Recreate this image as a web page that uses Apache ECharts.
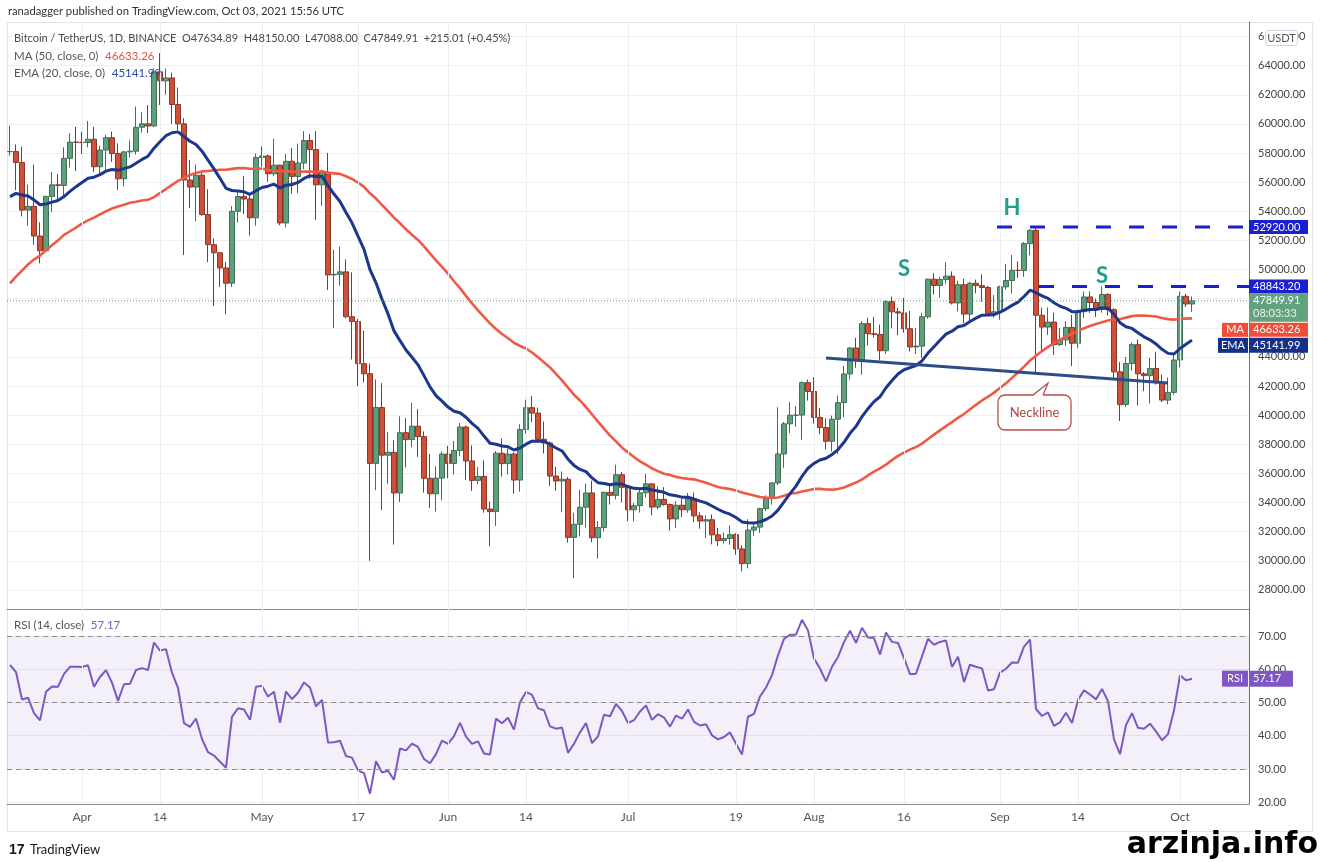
<!DOCTYPE html>
<html><head><meta charset="utf-8">
<script src="https://cdn.jsdelivr.net/npm/echarts@6/dist/echarts.min.js"></script>
<style>html,body{margin:0;padding:0;background:#fff;}#c{width:1320px;height:862px;}</style>
</head><body><div id="c"></div>
<script>
// ---------- data ----------
const startDate = '2021-03-20';
const totalSlots = 207;           // Mar 20 .. Oct 12 (right padding after last bar)
// closes before the visible window (Jan 30 .. Mar 19), needed by MA50 / EMA20 / RSI14
const priorCloses = [34269,33115,
  33533,35510,37473,36926,38144,39266,38903,46196,46481,44918,47910,47504,47106,48717,
  47945,49199,52149,51679,55889,55918,57412,54204,48891,49677,47079,46339,46189,45138,
  49632,48379,50367,48374,48758,48872,50971,52376,54885,55851,57773,57221,61188,58968,
  55605,56900,58912,57648,58030];
// daily candles [open, high, low, close]
const mar21 = [[58100,59880,57820,58102],[58102,58589,55450,57351],[57351,58430,53650,54083],[54083,55830,53000,54340],
  [54340,57200,51700,52303],[52303,53240,50427,51293],[51293,55073,51214,55025],[55025,56700,53950,55817],
  [55817,56559,54691,55777],[55777,58400,54900,57635],[57635,59368,57000,58746],[58746,59800,56769,58740]];
const apr21 = [[58740,59461,57935,58720],[58720,60200,58400,58950],[58950,59791,56700,57059],[57059,58500,56478,58207],
  [58207,59250,56800,59058],[59058,59475,57400,57971],[57971,58650,55473,56231],[56231,58153,55700,58080],
  [58080,58869,57700,58130],[58130,61200,57900,59771],[59771,60800,59400,60007],[60007,61300,59380,59861],
  [59861,63800,59800,63576],[63576,64854,61301,62959],[62959,63800,62000,63160],[63160,63520,60000,61334],
  [61334,62506,59580,60007],[60007,60400,51000,56150],[56150,57526,54221,55663],[55663,57200,53329,56473],
  [56473,56757,53695,53780],[53780,55521,50500,51711],[51711,52130,47500,51152],[51152,51167,48805,50110],
  [50110,50535,46930,49066],[49066,54356,48800,54001],[54001,55450,53222,55011],[55011,56428,53813,54847],
  [54847,55195,52330,53555],[53555,57963,53013,57694]];
const may21 = [[57694,58458,57052,57800],[57800,57911,56035,56578],[56578,58981,56435,57169],[57169,57200,53046,53200],
  [53200,57939,52900,57436],[57436,58360,55200,56393],[56393,58650,55241,57314],[57314,59500,56900,58862],
  [58862,59300,56235,58240],[58240,59500,53400,55816],[55816,56862,54370,56670],[56670,58000,48600,49631],
  [49631,51367,46000,49670],[49670,51569,48895,49841],[49841,50700,46650,46762],[46762,49800,43825,46431],
  [46431,46600,42001,43538],[43538,45800,42250,42849],[42849,43546,30000,36690],[36690,42451,34850,40526],
  [40526,42200,33488,37252],[37252,38856,35257,37449],[37449,38270,31111,34655],[34655,39920,34031,38796],
  [38796,39791,36419,38324],[38324,40841,37800,39241],[39241,40411,37134,38529],[38529,38877,34684,35664],
  [35664,37338,33632,34605],[34605,36488,33379,35678],[35678,37499,34153,37332]];
const jun21 = [[37332,37894,35666,36685],[36685,38225,35920,37576],[37576,39476,37170,39188],[39188,39289,35555,36856],
  [36856,37917,34800,35520],[35520,36436,35258,35796],[35796,36900,33300,33552],[33552,34068,31000,33380],
  [33380,37534,32396,37388],[37388,38392,35782,36675],[36675,37680,35936,37331],[37331,37440,34600,35546],
  [35546,39380,34757,39020],[39020,41064,38730,40516],[40516,41330,39506,40144],[40144,40527,38116,38349],
  [38349,39559,37365,38092],[38092,38200,35129,35820],[35820,36457,34803,35483],[35483,36137,33336,35600],
  [35600,35750,31251,31608],[31608,33298,28805,32509],[32509,34881,31683,33679],[33679,35298,32287,34663],
  [34663,35500,31275,31584],[31584,32730,30151,32283],[32283,34749,32018,34700],[34700,35297,33862,34494],
  [34494,36600,34225,35911],[35911,36100,34017,35045]];
const jul21 = [[35045,35057,32711,33504],[33504,33977,32699,33786],[33786,34945,33316,34669],[34669,35967,34357,35286],
  [35286,35293,33125,33690],[33690,35118,33532,34220],[34220,35059,33777,33862],[33862,33929,32077,32875],
  [32875,34100,32261,33815],[33815,34262,33004,33502],[33502,34666,33306,34259],[34259,34679,32658,33086],
  [33086,33340,32202,32729],[32729,33114,31550,32820],[32820,33185,31133,31781],[31781,32248,31020,31389],
  [31389,31940,31179,31533],[31533,32435,31108,31796],[31796,31899,30407,30817],[30817,31063,29278,29807],
  [29807,32858,29482,32110],[32110,32576,31708,32313],[32313,33650,31924,33581],[33581,34500,33401,34292],
  [34292,35398,33851,35350],[35350,40550,35205,37337],[37337,39542,36383,39406],[39406,40900,38772,39995],
  [39995,40640,39200,40008],[40008,42316,38313,42235],[42235,42448,41000,41626]];
const aug21 = [[41626,42599,39422,39845],[39845,40480,38690,39147],[39147,39780,37642,38207],[38207,39969,37508,39723],
  [39723,41350,37332,40862],[40862,43392,39853,42836],[42836,44700,42446,44614],[44614,45310,43261,43792],
  [43792,46454,42779,46285],[46285,46700,44800,45593],[45593,46743,45341,45551],[45551,46218,43770,44428],
  [44428,47886,44217,47793],[47793,48144,45971,47096],[47096,47372,45500,47019],[47019,48053,45660,45936],
  [45936,47160,44376,44686],[44686,46000,44203,44741],[44741,47033,43927,46762],[46762,49382,46622,49339],
  [49339,49757,48285,48905],[48905,49500,48069,49321],[49321,50500,49028,49546],[49546,49874,47600,47706],
  [47706,49229,47123,48960],[48960,49368,46315,46942],[46942,49166,46374,49058],[49058,49310,48370,48897],
  [48897,49666,47800,48767],[48767,48888,46853,46970],[46970,48246,46700,47100]];
const sep21 = [[47100,48888,46551,48811],[48811,50392,48631,49247],[49247,51000,48345,49941],[49941,50558,49426,49935],
  [49935,51900,49500,51782],[51782,52780,50970,52694],[52694,52920,42843,46863],[46863,47381,44412,46049],
  [46049,47400,45514,46395],[46395,47033,44132,44850],[44850,45985,44750,45173],[45173,46460,44743,46026],
  [46026,46880,43370,44940],[44940,47250,44594,47111],[47111,48500,46682,48121],[48121,48500,47020,47737],
  [47737,48000,46750,47299],[47299,48843.2,47035,48293],[48293,48372,46829,47241],[47241,47347,42500,42974],
  [42974,43640,39600,40730],[40730,44000,40565,43543],[43543,44978,43069,44843],[44843,45200,40675,42839],
  [42839,42966,41646,42717],[42717,43937,40803,43208],[43208,44350,42098,42235],[42235,42787,40888,41034],
  [41034,42590,40753,41564],[41564,44132,41410,43790]];
const oct21 = [[43790,48495,43283,48165],[48165,48336,47430,47635],[47634.89,48150,47088,47849.91]];

const tickLabels = [['2021-04-01','Apr'],['2021-04-14','14'],['2021-05-01','May'],['2021-05-17','17'],
  ['2021-06-01','Jun'],['2021-06-14','14'],['2021-07-01','Jul'],['2021-07-19','19'],['2021-08-01','Aug'],
  ['2021-08-16','16'],['2021-09-01','Sep'],['2021-09-14','14'],['2021-10-01','Oct']];
const headLevel = 52920;        // dashed line, starts Sep 1
const shoulderLevel = 48843.20; // dashed line, starts Sep 8
const headLevelStart = '2021-09-01';
const shoulderLevelStart = '2021-09-08';
const necklinePts = [['2021-08-03',43920],['2021-09-29',42210]];
const patternLabels = [['S','2021-08-16',50040],['H','2021-09-03',54230],['S','2021-09-18',49560]];
const necklineTip = ['2021-09-09',42208];
const lastPrice = 47849.91, maLast = 46633.26, emaLast = 45141.99, rsiLast = 57.17;
const priceMin = 26690, priceMax = 67000;
const rsiMin = 19.47, rsiMax = 78.12;

// ---------- build ----------
const ohlc = [].concat(mar21, apr21, may21, jun21, jul21, aug21, sep21, oct21);
const dates = [];
const d0 = new Date(startDate + 'T00:00:00Z').getTime();
for (let i = 0; i < totalSlots; i++) dates.push(new Date(d0 + i * 86400000).toISOString().slice(0, 10));
const labelMap = {}; tickLabels.forEach(t => labelMap[t[0]] = t[1]);

const candleData = ohlc.map(r => [r[0], r[3], r[2], r[1]]);
const closes = priorCloses.concat(ohlc.map(r => r[3]));
const P = priorCloses.length;
const ma50 = [], ema20 = [], rsi14 = [];
for (let i = 0; i < ohlc.length; i++) {
  let s = 0; for (let j = P + i - 49; j <= P + i; j++) s += closes[j];
  ma50.push(+(s / 50).toFixed(2));
}
{ let e = 0; for (let j = 0; j < 20; j++) e += closes[j]; e /= 20; const k = 2 / 21;
  for (let j = 20; j < closes.length; j++) { e = closes[j] * k + e * (1 - k); if (j >= P) ema20.push(+e.toFixed(2)); } }
{ let g = 0, l = 0;
  for (let j = 1; j <= 14; j++) { const ch = closes[j] - closes[j - 1]; if (ch > 0) g += ch; else l -= ch; }
  g /= 14; l /= 14;
  for (let j = 15; j < closes.length; j++) { const ch = closes[j] - closes[j - 1];
    g = (g * 13 + Math.max(ch, 0)) / 14; l = (l * 13 + Math.max(-ch, 0)) / 14;
    if (j >= P) rsi14.push(+(100 - 100 / (1 + g / l)).toFixed(2)); } }

const FONT = 'Lato, "Open Sans", sans-serif';
const GRID_L = 7, GRID_R = 71;
const AXIS_X = 1320 - GRID_R;
const vLines = tickLabels.map(t => ({ xAxis: t[0] }));

const chart = echarts.init(document.getElementById('c'), null, { width: 1320, height: 862 });
chart.setOption({
  animation: false,
  backgroundColor: '#ffffff',
  textStyle: { fontFamily: FONT },
  grid: [
    { left: GRID_L, right: GRID_R, top: 22, height: 587 },
    { left: GRID_L, right: GRID_R, top: 609, height: 195 }
  ],
  xAxis: [
    { type: 'category', gridIndex: 0, data: dates, boundaryGap: true,
      axisLine: { show: true, lineStyle: { color: '#8a8a8a', width: 1 } }, axisTick: { show: false },
      axisLabel: { show: false }, splitLine: { show: false } },
    { type: 'category', gridIndex: 1, data: dates, boundaryGap: true,
      axisLine: { show: true, lineStyle: { color: '#8a8a8a', width: 1 } }, axisTick: { show: false },
      axisLabel: { show: true, color: '#555', fontSize: 12, fontFamily: FONT, margin: 7,
        interval: (i, v) => labelMap[v] !== undefined, formatter: v => labelMap[v] || '' },
      splitLine: { show: false } }
  ],
  yAxis: [
    { type: 'value', gridIndex: 0, position: 'right', min: priceMin, max: priceMax,
      splitNumber: 20, minInterval: 2000, maxInterval: 2000,
      axisLine: { show: true, lineStyle: { color: '#707070' } }, axisTick: { show: false },
      axisLabel: { color: '#444', fontSize: 11, fontFamily: FONT, margin: 9,
        formatter: v => (Math.abs(v % 2000) < 1e-6 ? v.toFixed(2) : '') },
      splitLine: { show: true, lineStyle: { color: '#eceef3', width: 1 } } },
    { type: 'value', gridIndex: 1, position: 'right', min: rsiMin, max: rsiMax,
      splitNumber: 6, minInterval: 10, maxInterval: 10,
      axisLine: { show: true, lineStyle: { color: '#707070' } }, axisTick: { show: false },
      axisLabel: { color: '#444', fontSize: 11, fontFamily: FONT, margin: 9,
        formatter: v => (Math.abs(v % 10) < 1e-6 ? v.toFixed(2) : '') },
      splitLine: { show: true, lineStyle: { color: '#eceef3', width: 1 } } }
  ],
  series: [
    { type: 'line', name: 'vgrid0', xAxisIndex: 0, yAxisIndex: 0, data: [], z: 1, silent: true,
      markLine: { silent: true, symbol: ['none', 'none'], label: { show: false },
        lineStyle: { color: '#eceef3', width: 1, type: 'solid' }, data: vLines } },
    { type: 'line', name: 'vgrid1', xAxisIndex: 1, yAxisIndex: 1, data: [], z: 1, silent: true,
      markLine: { silent: true, symbol: ['none', 'none'], label: { show: false },
        lineStyle: { color: '#eceef3', width: 1, type: 'solid' }, data: vLines } },
    { type: 'line', name: 'rsiBand', xAxisIndex: 1, yAxisIndex: 1, data: [], z: 1, silent: true,
      markArea: { silent: true, itemStyle: { color: 'rgba(126,87,194,0.09)' }, data: [[{ yAxis: 30 }, { yAxis: 70 }]] },
      markLine: { silent: true, symbol: ['none', 'none'], label: { show: false },
        lineStyle: { color: '#8c8c8c', width: 1, type: [5, 4] },
        data: [{ yAxis: 70 }, { yAxis: 50 }, { yAxis: 30 }] } },
    { type: 'candlestick', name: 'BTCUSDT', xAxisIndex: 0, yAxisIndex: 0, data: candleData, barWidth: 5, z: 3,
      itemStyle: { color: '#5f9f7c', color0: '#cf4f38', borderColor: '#3d7256', borderColor0: '#8d3627', borderWidth: 1 } },
    { type: 'line', name: 'MA50', xAxisIndex: 0, yAxisIndex: 0, data: ma50, showSymbol: false, z: 4,
      lineStyle: { color: '#f05a44', width: 2.6 } },
    { type: 'line', name: 'EMA20', xAxisIndex: 0, yAxisIndex: 0, data: ema20, showSymbol: false, z: 5,
      lineStyle: { color: '#1c388c', width: 3 } },
    { type: 'line', name: 'Neckline', xAxisIndex: 0, yAxisIndex: 0, data: necklinePts, showSymbol: false, z: 6,
      lineStyle: { color: '#2d4d86', width: 3 } },
    { type: 'line', name: 'RSI', xAxisIndex: 1, yAxisIndex: 1, data: rsi14, showSymbol: false, z: 4,
      lineStyle: { color: '#7e57c2', width: 2 } }
  ]
});

// ---------- overlays positioned through the chart's scales ----------
const yP = v => chart.convertToPixel({ yAxisIndex: 0 }, v);
const yR = v => chart.convertToPixel({ yAxisIndex: 1 }, v);
const xD = d => chart.convertToPixel({ xAxisIndex: 0 }, d);
const G = [];
const LF = '11.5px ' + FONT;
function text(x, y, t, style, z) {
  G.push({ type: 'text', x: x, y: y, z: z || 100, silent: true,
    style: Object.assign({ text: t, fill: '#4a4a4a', font: LF, verticalAlign: 'middle', align: 'left' }, style || {}) });
}
function box(x, y, w, h, fill, r) {
  G.push({ type: 'rect', z: 99, silent: true, shape: { x: x, y: y, width: w, height: h, r: r || 0 }, style: { fill: fill } });
}
// frame
G.push({ type: 'rect', z: 0, silent: true, shape: { x: 7.5, y: 22.5, width: 1305, height: 809 }, style: { fill: 'none', stroke: '#e0e3eb', lineWidth: 1 } });
// header & legends
text(8, 11, 'ranadagger published on TradingView.com, Oct 03, 2021 15:56 UTC', { fill: '#333', font: '11.25px ' + FONT });
text(14, 38, 'Bitcoin / TetherUS, 1D, BINANCE  O47634.89  H48150.00  L47088.00  C47849.91  +215.01 (+0.45%)', { fill: '#4a4a4a', font: '11px ' + FONT });
G.push({ type: 'text', x: 14, y: 56, z: 100, silent: true, style: { text: '{a|MA (50, close, 0)}  {b|46633.26}', verticalAlign: 'middle',
  rich: { a: { fill: '#555', font: LF }, b: { fill: '#e9503d', font: LF } } } });
G.push({ type: 'text', x: 14, y: 73, z: 100, silent: true, style: { text: '{a|EMA (20, close, 0)}  {b|45141.99}', verticalAlign: 'middle',
  rich: { a: { fill: '#555', font: LF }, b: { fill: '#2b4a9b', font: LF } } } });
G.push({ type: 'text', x: 14, y: 625, z: 100, silent: true, style: { text: '{a|RSI (14, close)}  {b|57.17}', verticalAlign: 'middle',
  rich: { a: { fill: '#555', font: LF }, b: { fill: '#7e57c2', font: LF } } } });
// USDT badge
G.push({ type: 'rect', z: 101, silent: true, shape: { x: 1265.5, y: 30.5, width: 32, height: 15, r: 3 }, style: { fill: '#fff', stroke: '#d0d3db' } });
text(1281.5, 38, 'USDT', { fill: '#555', font: '11px ' + FONT, align: 'center' }, 102);
// current price dotted line
const yLast = yP(lastPrice);
G.push({ type: 'line', z: 50, silent: true, shape: { x1: GRID_L, y1: yLast, x2: AXIS_X, y2: yLast }, style: { stroke: '#5f9f7c', lineWidth: 1, lineDash: [1, 2] } });
// dashed head / shoulder levels
[[headLevel, headLevelStart], [shoulderLevel, shoulderLevelStart]].forEach(l => {
  const y = yP(l[0]);
  G.push({ type: 'line', z: 60, silent: true, shape: { x1: xD(l[1]) - 3, y1: y, x2: AXIS_X, y2: y }, style: { stroke: '#1a1fd2', lineWidth: 3, lineDash: [15, 18] } });
  box(AXIS_X, y - 7, 59, 14, '#1a1fd2');
  text(AXIS_X + 4, y, l[0].toFixed(2), { fill: '#fff', font: '11px ' + FONT });
});
// price / MA / EMA tags (stacked like the original)
const pTop = yLast - 7;
box(AXIS_X, pTop, 59, 28, '#62a27f');
text(AXIS_X + 4, pTop + 7, lastPrice.toFixed(2), { fill: '#fff', font: '11px ' + FONT });
text(AXIS_X + 4, pTop + 20, '08:03:33', { fill: '#eaf4ee', font: '11px ' + FONT });
const maTop = Math.max(yP(maLast) - 7, pTop + 29);
box(AXIS_X - 27, maTop, 26, 14, '#ef4e3a'); box(AXIS_X, maTop, 59, 14, '#ef4e3a');
text(AXIS_X - 14, maTop + 7, 'MA', { fill: '#fff', font: '11px ' + FONT, align: 'center' });
text(AXIS_X + 4, maTop + 7, maLast.toFixed(2), { fill: '#fff', font: '11px ' + FONT });
const emaTop = Math.max(yP(emaLast) - 7, maTop + 15);
box(AXIS_X - 31, emaTop, 30, 15, '#14318a'); box(AXIS_X, emaTop, 59, 15, '#14318a');
text(AXIS_X - 16, emaTop + 7.5, 'EMA', { fill: '#fff', font: '11px ' + FONT, align: 'center' });
text(AXIS_X + 4, emaTop + 7.5, emaLast.toFixed(2), { fill: '#fff', font: '11px ' + FONT });
// RSI tag
const yRs = yR(rsiLast);
box(AXIS_X - 27, yRs - 8, 26, 16, '#7e57c2'); box(AXIS_X, yRs - 8, 44, 16, '#7e57c2');
text(AXIS_X - 14, yRs, 'RSI', { fill: '#fff', font: '11px ' + FONT, align: 'center' });
text(AXIS_X + 4, yRs, rsiLast.toFixed(2), { fill: '#fff', font: '11px ' + FONT });
// H / S labels
patternLabels.forEach(p => {
  const pt = chart.convertToPixel({ gridIndex: 0 }, [p[1], p[2]]);
  text(pt[0], pt[1], p[0], { fill: '#1f9e8a', font: 'bold 22px ' + FONT, align: 'center' });
});
// Neckline callout
{
  const tip = chart.convertToPixel({ gridIndex: 0 }, necklineTip);
  const tx = tip[0], ty = tip[1];
  G.push({ type: 'rect', z: 90, silent: true, shape: { x: tx - 50, y: ty + 12, width: 73, height: 35, r: 7 }, style: { fill: '#fff', stroke: '#b5524b', lineWidth: 1.3 } });
  G.push({ type: 'polygon', z: 91, silent: true, shape: { points: [[tx - 15, ty + 13], [tx, ty], [tx - 5, ty + 13]] }, style: { fill: '#fff' } });
  G.push({ type: 'polyline', z: 92, silent: true, shape: { points: [[tx - 15, ty + 12], [tx, ty], [tx - 5, ty + 12]] }, style: { stroke: '#b5524b', lineWidth: 1.3, fill: 'none' } });
  text(tx - 13.5, ty + 30, 'Neckline', { fill: '#a9443d', font: '13px ' + FONT, align: 'center' }, 93);
}
// footer
text(9, 850, '17', { fill: '#131722', font: 'bold 14px "Liberation Sans", sans-serif' });
text(30, 850, 'TradingView', { fill: '#131722', font: '13px ' + FONT });
G.push({ type: 'text', x: 1318, y: 845, z: 100, silent: true, style: { text: 'arzinja.info', fill: '#000', font: 'bold 30px "DejaVu Sans", sans-serif', align: 'right', verticalAlign: 'middle' } });

chart.setOption({ graphic: G });
</script></body></html>
